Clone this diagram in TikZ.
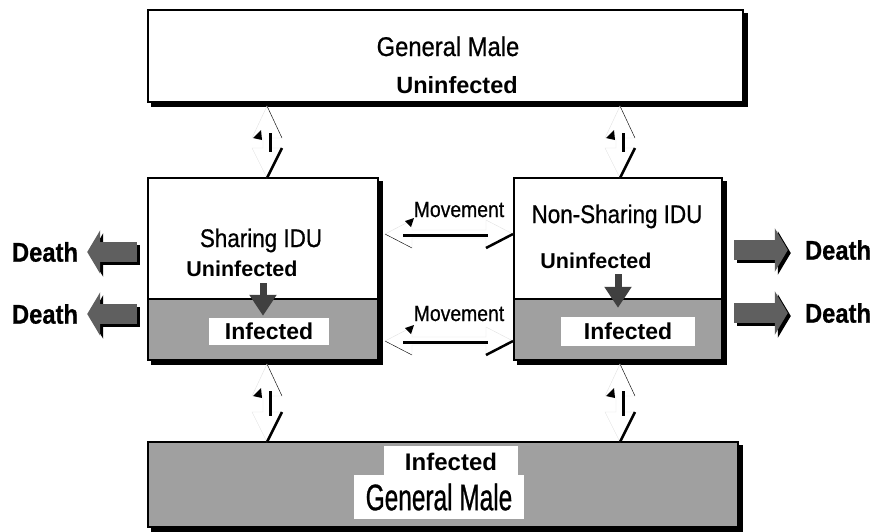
\documentclass[tikz,border=0pt]{standalone}
\usepackage{fontspec}
\setmainfont{Liberation Sans}
\newfontfamily\nsf[FakeStretch=0.88,FakeBold=0.7]{Liberation Sans}
\newfontfamily\tsf[FakeStretch=0.66,FakeBold=0.7]{Liberation Sans}
\usetikzlibrary{arrows.meta}
\definecolor{boxgray}{HTML}{A0A0A0}
\definecolor{deathgray}{HTML}{5F5F5F}
\definecolor{downgray}{HTML}{404040}
\definecolor{edgegray}{HTML}{E2E2E2}
\tikzset{
  box/.style={draw, line width=2.4pt, inner sep=0pt,
    preaction={draw=black, fill=black, transform canvas={shift={(4pt,-4pt)}}}},
  ttl/.style={inner sep=0pt, font=\nsf\fontsize{25.5}{28}\selectfont},
  lbl/.style={inner sep=1pt, font=\bfseries\fontsize{21.5}{24}\selectfont},
  infbox/.style={fill=white, inner sep=0pt, font=\bfseries\fontsize{23}{26}\selectfont},
  mov/.style={inner sep=0pt, font=\nsf\fontsize{22}{24}\selectfont},
  death/.style={inner sep=0pt, font=\bfseries\nsf\fontsize{27}{30}\selectfont},
  deatharr/.style={line width=20pt, draw=deathgray, -{Triangle[width=43pt,length=13pt]}},
  deathshade/.style={line width=20pt, draw=black, -{Triangle[width=43pt,length=13pt]},
    transform canvas={shift={(3pt,-3pt)}}},
  downarr/.style={line width=7pt, draw=downgray, -{Triangle[width=26pt,length=21pt]}},
  arrlen/.store in=\arrlen, arrlen=72,
  updown/.pic={
    \fill[white, draw=edgegray] (0,0) -- (15,32) -- (4,32) -- (4,\arrlen-30) -- (15,\arrlen-30)
      -- (0,\arrlen) -- (-15,\arrlen-30) -- (-4,\arrlen-30) -- (-4,32) -- (-15,32) -- cycle;
    \draw[thin] (0,0) -- (15,32);
    \fill (-14,32) -- (-6,24) -- (-5,34) -- cycle;
    \draw[line width=3pt] (3,27) -- (3,\arrlen-26);
    \draw[line width=2.5pt] (15,\arrlen-30) -- (0,\arrlen);
  },
  leftright/.pic={
    \fill[white, draw=edgegray] (0,0) -- (27,-14) -- (27,-4) -- (\arrlen-27,-4) -- (\arrlen-27,-14)
      -- (\arrlen,0) -- (\arrlen-27,14) -- (\arrlen-27,4) -- (27,4) -- (27,14) -- cycle;
    \draw[thin] (0,0) -- (27,14);
    \fill (20,-13) -- (29,-16) -- (26,-7) -- cycle;
    \draw[line width=3pt] (18,1) -- (\arrlen-25,1);
    \draw[line width=2.5pt] (\arrlen-27,14) -- (\arrlen,0);
  }
}
\begin{document}
\begin{tikzpicture}[x=1pt, y=-1pt]
    \useasboundingbox (0,0) rectangle (873,531);
    \node[box, fill=white, minimum width=595pt, minimum height=92pt] (gmtop) at (445.5,56) {};
    \node[box, fill=white, minimum width=230pt, minimum height=121pt] (sidu) at (263,238.5) {};
    \node[box, fill=boxgray, minimum width=230pt, minimum height=61pt] (sidui) at (263,329.5) {};
    \node[box, fill=white, minimum width=208pt, minimum height=121pt] (nidu) at (618,238.5) {};
    \node[box, fill=boxgray, minimum width=208pt, minimum height=61pt] (nidui) at (618,329.5) {};
    \node[box, fill=boxgray, minimum width=590pt, minimum height=85pt] (gmbot) at (443,484.5) {};

    \node[ttl, anchor=base, font=\nsf\fontsize{27}{30}\selectfont] (gmtxt) at (448,56) {General Male};
    \node[lbl, anchor=base, font=\bfseries\fontsize{23.5}{26}\selectfont] (gmunin) at (457,93) {Uninfected};
    \node[ttl, anchor=base] (sharetxt) at (261,247) {Sharing IDU};
    \node[lbl, anchor=base] (uninL) at (242,276) {Uninfected};
    \node[infbox, minimum width=120pt, minimum height=27pt] (infL) at (269,331.5) {Infected};
    \node[ttl, anchor=base] (nsharetxt) at (617,223) {Non-Sharing IDU};
    \node[lbl, anchor=base] (uninR) at (596,268) {Uninfected};
    \node[infbox, minimum width=134pt, minimum height=29pt] (infR) at (628,331.5) {Infected};
    \node[mov, anchor=base] (movT) at (459,217) {Movement};
    \node[mov, anchor=base] (movB) at (459,321) {Movement};
    \node[infbox, minimum width=134pt, minimum height=32pt, font=\bfseries\fontsize{24}{26}\selectfont] (ginf) at (451,462) {Infected};
    \node[fill=white, inner sep=0pt, minimum width=170pt, minimum height=44pt, font=\tsf\fontsize{37}{40}\selectfont] (ggm) at (439,497) {General Male};

    \node[death] (dL1) at (45,252) {Death};
    \node[death] (dL2) at (45,314) {Death};
    \node[death] (dR1) at (838,250) {Death};
    \node[death] (dR2) at (838,313) {Death};

    \draw[deathshade, shorten <=10pt, shorten >=9pt] (dL1.east -| sidu.west) -- (dL1.east);
    \draw[deatharr, shorten <=10pt, shorten >=9pt] (dL1.east -| sidu.west) -- (dL1.east);
    \draw[deathshade, shorten <=10pt, shorten >=9pt] (dL2.east -| sidui.west) -- (dL2.east);
    \draw[deatharr, shorten <=10pt, shorten >=9pt] (dL2.east -| sidui.west) -- (dL2.east);
    \draw[deathshade, shorten <=11pt, shorten >=17pt] (dR1.west -| nidu.east) -- (dR1.west);
    \draw[deatharr, shorten <=11pt, shorten >=17pt] (dR1.west -| nidu.east) -- (dR1.west);
    \draw[deathshade, shorten <=11pt, shorten >=17pt] (dR2.west -| nidui.east) -- (dR2.west);
    \draw[deatharr, shorten <=11pt, shorten >=17pt] (dR2.west -| nidui.east) -- (dR2.west);

    \draw[downarr, shorten <=6pt, shorten >=2pt] (uninL.south -| sidu.center) -- (infL.north -| sidu.center);
    \draw[downarr, shorten <=5pt, shorten >=9pt] (uninR.south -| nidu.center) -- (infR.north -| nidu.center);

    \pic[arrlen=72] at (267,106) {updown};
    \pic[arrlen=72] at (620,106) {updown};
    \pic[arrlen=78] at (267,364) {updown};
    \pic[arrlen=78] at (620,364) {updown};
    \pic[arrlen=128] at (385,234) {leftright};
    \pic[arrlen=128] at (385,341) {leftright};
\end{tikzpicture}
\end{document}
